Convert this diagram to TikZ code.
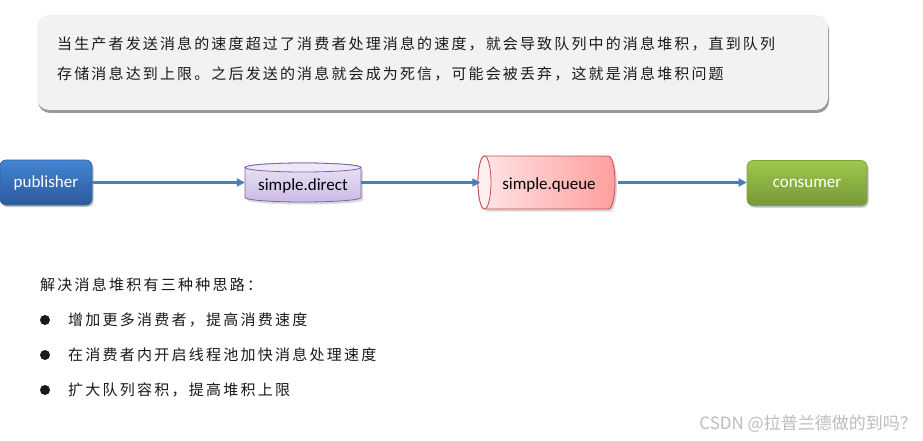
\documentclass[tikz,border=0pt]{standalone}
\usepackage{fontspec}
\setmainfont{Carlito}
\newfontfamily\cjktop[LetterSpace=14.3]{Noto Sans CJK SC}
\newfontfamily\cjkbot[LetterSpace=15]{Noto Sans CJK SC}
\newfontfamily\cjkwm{Noto Sans CJK SC}
\usetikzlibrary{arrows.meta,shadows}
\definecolor{notefill}{HTML}{F2F2F2}
\definecolor{pubtop}{HTML}{4385D2}
\definecolor{pubbot}{HTML}{2A5A9C}
\definecolor{publine}{HTML}{2D5E9E}
\definecolor{contop}{HTML}{9DC84B}
\definecolor{conbot}{HTML}{76983A}
\definecolor{conline}{HTML}{7FA43E}
\definecolor{arrowc}{HTML}{4A7EBB}
\definecolor{dirtop}{HTML}{EBE4F6}
\definecolor{dirbot}{HTML}{CBBBE6}
\definecolor{dirline}{HTML}{8064A2}
\definecolor{dircap}{HTML}{EDE7F7}
\definecolor{qleft}{HTML}{FFE6E6}
\definecolor{qright}{HTML}{FF9E9E}
\definecolor{qline}{HTML}{C0504D}
\definecolor{qcap}{HTML}{FFEFEF}
\definecolor{txt}{HTML}{1A1A1A}
\definecolor{wmc}{HTML}{BDBDBD}
\begin{document}
\begin{tikzpicture}[x=1pt,y=-1pt,
  notebox/.style={rectangle,rounded corners=12pt,fill=notefill,minimum width=791pt,minimum height=95pt,inner sep=0pt,
    drop shadow={shadow xshift=1pt,shadow yshift=-3pt,fill=black,opacity=0.4}},
  toptext/.style={anchor=west,inner sep=0pt,text=txt,font=\cjktop\fontsize{15}{15}\selectfont},
  bottext/.style={anchor=west,inner sep=0pt,text=txt,font=\cjkbot\fontsize{15}{15}\selectfont},
  endbox/.style={rectangle,rounded corners=6pt,inner sep=0pt,text=white,font=\fontsize{17}{17}\selectfont,
    drop shadow={shadow xshift=1.5pt,shadow yshift=-2pt,fill=black,opacity=0.25}},
  label/.style={inner sep=0pt,text=black,font=\fontsize{17}{17}\selectfont},
  conn/.style={draw=arrowc,line width=2.2pt,-{Triangle[length=8pt,width=8pt]}},
  bulletdot/.style={circle,fill=txt,minimum size=10pt,inner sep=0pt}
]
\useasboundingbox (0,0) rectangle (923,441);
\fill[white] (0,0) rectangle (923,441);

% note box
\node[notebox] (note) at (432.5,62.5) {};
\node[toptext] (l1) at (57,44) {当生产者发送消息的速度超过了消费者处理消息的速度，就会导致队列中的消息堆积，直到队列};
\node[toptext] (l2) at (57,74) {存储消息达到上限。之后发送的消息就会成为死信，可能会被丢弃，这就是消息堆积问题};

% publisher
\node[endbox,top color=pubtop,bottom color=pubbot,draw=publine,line width=0.6pt,minimum width=92pt,minimum height=45pt] (pub) at (46,182.5) {publisher};

% simple.direct cylinder (vertical)
\path[fill=black,opacity=0.15] (247,169.5) -- (247,200) arc[start angle=180,end angle=0,x radius=58,y radius=4.5] -- (363,169.5) -- cycle;
\path[top color=dirtop,bottom color=dirbot,draw=dirline,line width=0.8pt]
  (245,167.5) -- (245,197.5) arc[start angle=180,end angle=0,x radius=58,y radius=4.5]
  -- (361,167.5) arc[start angle=0,end angle=-180,x radius=58,y radius=4.5] -- cycle;
\draw[fill=dircap,draw=dirline,line width=0.8pt] (303,167.5) ellipse[x radius=58,y radius=4.5];
\node[label,minimum width=116pt,minimum height=30pt] (direct) at (303,186) {simple.direct};

% simple.queue cylinder (horizontal)
\path[fill=black,opacity=0.15] (486.5,158.5) -- (610.5,158.5) arc[start angle=-90,end angle=90,x radius=6.5,y radius=26.5] -- (486.5,211.5) -- cycle;
\path[left color=qleft,right color=qright,draw=qline,line width=0.8pt]
  (484.5,156) -- (608.5,156) arc[start angle=-90,end angle=90,x radius=6.5,y radius=26.5]
  -- (484.5,209) arc[start angle=90,end angle=270,x radius=6.5,y radius=26.5] -- cycle;
\draw[fill=qcap,draw=qline,line width=0.8pt] (484.5,182.5) ellipse[x radius=6.5,y radius=26.5];
\node[label,minimum width=137pt,minimum height=53pt] (queue) at (549,184.5) {simple.queue};

% consumer
\node[endbox,top color=contop,bottom color=conbot,draw=conline,line width=0.6pt,minimum width=120pt,minimum height=45pt] (con) at (807,183) {consumer};

% connectors
\draw[conn] (pub.east) -- (direct.west |- pub.east);
\draw[conn] (direct.east |- pub.east) -- (queue.west |- pub.east);
\draw[conn] (queue.east |- pub.east) -- (con.west |- pub.east);

% bottom list
\node[bottext] (head) at (40,285) {解决消息堆积有三种种思路：};
\node[bulletdot] (b1) at (45,320) {};
\node[bulletdot] (b2) at (45,355) {};
\node[bulletdot] (b3) at (45,390) {};
\node[bottext] (t1) at (68,320) {增加更多消费者，提高消费速度};
\node[bottext] (t2) at (68,355) {在消费者内开启线程池加快消息处理速度};
\node[bottext] (t3) at (68,390) {扩大队列容积，提高堆积上限};

% watermark
\node[anchor=east,inner sep=0pt,text=wmc,font=\cjkwm\fontsize{17}{17}\selectfont] (wm) at (917,424) {CSDN @拉普兰德做的到吗？};
\end{tikzpicture}
\end{document}
